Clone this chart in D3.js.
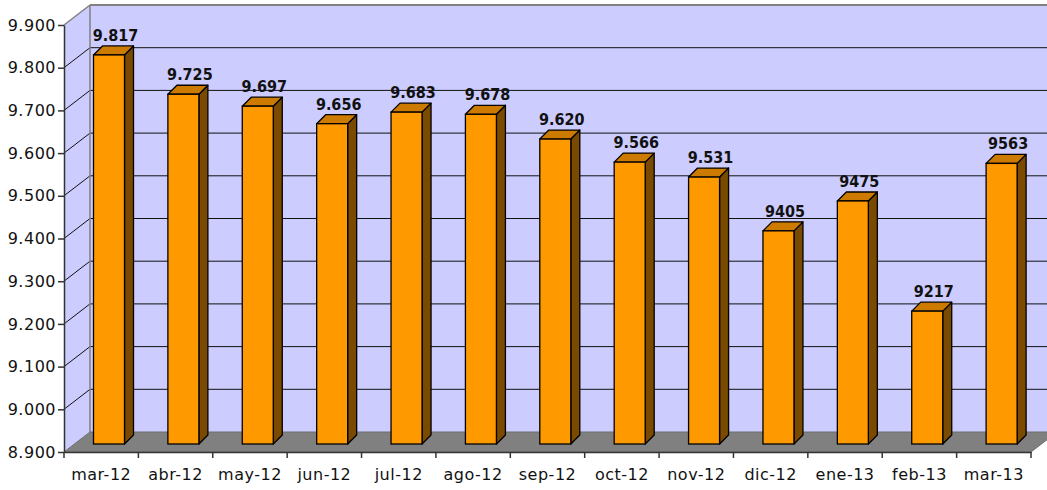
<!DOCTYPE html>
<html>
<head>
<meta charset="utf-8">
<script src="https://cdn.jsdelivr.net/npm/d3@7/dist/d3.min.js"></script>
<style>
  html, body { margin: 0; padding: 0; background: #fff; }
  svg { display: block; }
  .tick text { font-family: "DejaVu Sans", Verdana, sans-serif; font-size: 16px; letter-spacing: 0.5px; fill: #111; }
  .val { font-family: "DejaVu Sans Condensed", "DejaVu Sans", sans-serif; font-stretch: condensed; font-size: 16px; font-weight: bold; fill: #111; }
</style>
</head>
<body>
<div id="chart"></div>
<script>
// months shown on the x axis
const months = ['mar-12', 'abr-12', 'may-12', 'jun-12', 'jul-12', 'ago-12', 'sep-12',
  'oct-12', 'nov-12', 'dic-12', 'ene-13', 'feb-13', 'mar-13'];
// values per month
const values = [9817, 9725, 9697, 9656, 9683, 9678, 9620, 9566, 9531, 9405, 9475, 9217, 9563];
// labels as written above each bar
const valueLabels = ['9.817', '9.725', '9.697', '9.656', '9.683', '9.678', '9.620',
  '9.566', '9.531', '9405', '9475', '9217', '9563'];
// y axis ticks
const yTicks = [8900, 9000, 9100, 9200, 9300, 9400, 9500, 9600, 9700, 9800, 9900];

const width = 1047, height = 490;
const plotLeft = 64, plotRight = 1031, plotBottom = 452, plotTop = 25;
const wallDx = 26, wallDy = -20;   // depth of the walls
const barDx = 9, barDy = -9;        // depth of a bar
const barW = 31;

const svg = d3.select('#chart').append('svg')
  .attr('width', width)
  .attr('height', height);

const x = d3.scaleBand().domain(months).range([plotLeft, plotRight]);
const y = d3.scaleLinear().domain([yTicks[0], yTicks[yTicks.length - 1]]).range([plotBottom, plotTop]);
const es = d3.formatLocale({ decimal: ',', thousands: '.', grouping: [3], currency: ['', '€'] });
const fmt = es.format(',');

const wallTop = y(yTicks[yTicks.length - 1]) + wallDy;
const floorBack = plotBottom + wallDy;

// back wall
svg.append('rect')
  .attr('x', plotLeft + wallDx)
  .attr('y', wallTop)
  .attr('width', plotRight - plotLeft + 10)
  .attr('height', floorBack - wallTop)
  .attr('fill', '#ccccff');

// side wall
svg.append('polygon')
  .attr('points', [[plotLeft, plotTop], [plotLeft + wallDx, wallTop], [plotLeft + wallDx, floorBack], [plotLeft, plotBottom]].join(' '))
  .attr('fill', '#ccccff');

// gridlines
const inner = yTicks.slice(1, -1);
svg.append('g').selectAll('line').data(inner).join('line')
  .attr('x1', plotLeft + wallDx).attr('x2', width + 20)
  .attr('y1', d => y(d) + wallDy).attr('y2', d => y(d) + wallDy)
  .attr('stroke', '#111').attr('stroke-width', 1);
svg.append('g').selectAll('line').data(inner).join('line')
  .attr('x1', plotLeft).attr('x2', plotLeft + wallDx)
  .attr('y1', d => y(d)).attr('y2', d => y(d) + wallDy)
  .attr('stroke', '#111').attr('stroke-width', 1);

// wall borders
svg.append('line')
  .attr('x1', plotLeft + wallDx).attr('x2', width + 20)
  .attr('y1', wallTop).attr('y2', wallTop)
  .attr('stroke', '#808080').attr('stroke-width', 2);
svg.append('line')
  .attr('x1', plotLeft).attr('y1', plotTop)
  .attr('x2', plotLeft + wallDx).attr('y2', wallTop)
  .attr('stroke', '#808080').attr('stroke-width', 1.5);
svg.append('line')
  .attr('x1', plotLeft + wallDx).attr('x2', plotLeft + wallDx)
  .attr('y1', wallTop).attr('y2', floorBack)
  .attr('stroke', '#808080').attr('stroke-width', 1.5);

// floor
svg.append('polygon')
  .attr('points', [[plotLeft, plotBottom], [plotRight, plotBottom], [plotRight + wallDx, floorBack], [plotLeft + wallDx, floorBack]].join(' '))
  .attr('fill', '#808080')
  .attr('stroke', '#6e6e6e')
  .attr('stroke-width', 1);

// y axis
const yAxis = svg.append('g')
  .attr('transform', `translate(${plotLeft},0)`)
  .call(d3.axisLeft(y).tickValues(yTicks).tickFormat(fmt).tickSize(6).tickSizeOuter(0).tickPadding(2));
yAxis.select('.domain').attr('stroke', '#333').attr('stroke-width', 1.5);
yAxis.selectAll('.tick line').attr('stroke', '#333').attr('stroke-width', 1.5);

// x axis: labels centred, ticks at the category edges
const xAxis = svg.append('g')
  .attr('transform', `translate(0,${plotBottom})`)
  .call(d3.axisBottom(x).tickSize(0).tickSizeOuter(0).tickPadding(17));
xAxis.select('.domain').attr('stroke', '#333').attr('stroke-width', 1.5);
const edges = months.map(m => x(m)).concat([x.range()[1]]);
xAxis.selectAll('line.edge').data(edges).join('line')
  .attr('class', 'edge')
  .attr('x1', d => d).attr('x2', d => d)
  .attr('y1', 0).attr('y2', 6)
  .attr('stroke', '#333').attr('stroke-width', 1.5);

// bars
const barBase = plotBottom - 8;
const bars = svg.append('g').selectAll('g').data(values).join('g');
bars.each(function (v, i) {
  const g = d3.select(this);
  const L = x(months[i]) + 29.5;
  const R = L + barW;
  const T = y(v) - 5.5;
  const B = barBase;
  g.append('polygon')
    .attr('points', [[R, T], [R + barDx, T + barDy], [R + barDx, B + barDy], [R, B]].join(' '))
    .attr('fill', '#7a4a00').attr('stroke', '#000').attr('stroke-width', 1.3).attr('stroke-linejoin', 'round');
  g.append('polygon')
    .attr('points', [[L, T], [L + barDx, T + barDy], [R + barDx, T + barDy], [R, T]].join(' '))
    .attr('fill', '#cc7a00').attr('stroke', '#000').attr('stroke-width', 1.3).attr('stroke-linejoin', 'round');
  g.append('rect')
    .attr('x', L).attr('y', T)
    .attr('width', barW).attr('height', B - T)
    .attr('fill', '#ff9900').attr('stroke', '#000').attr('stroke-width', 1.3);
  g.append('text')
    .attr('class', 'val')
    .attr('x', L + 22)
    .attr('y', T + barDy - 5)
    .attr('text-anchor', 'middle')
    .text(valueLabels[i]);
});
</script>
</body>
</html>
